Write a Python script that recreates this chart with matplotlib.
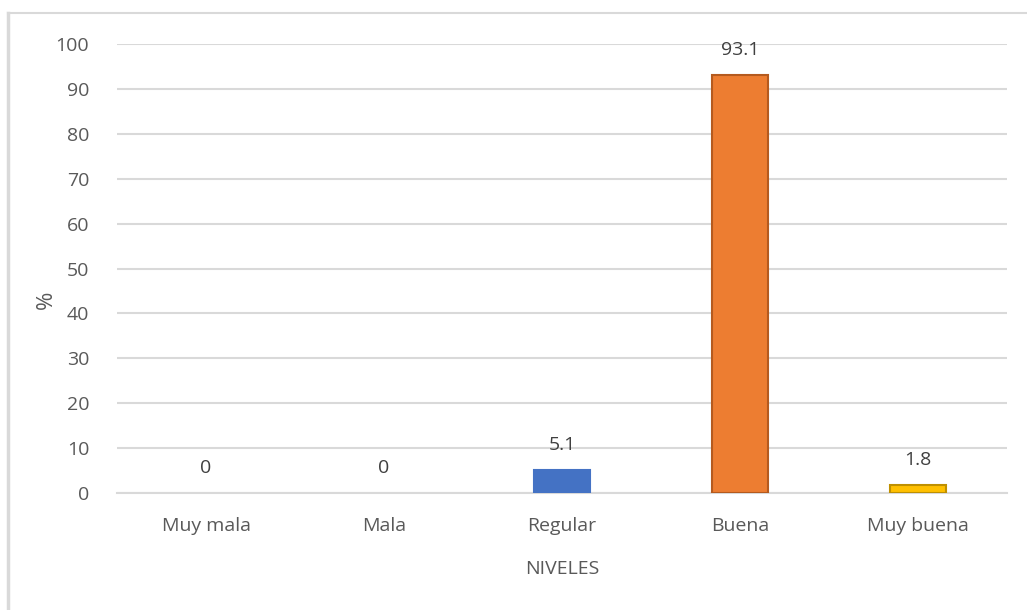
import matplotlib.pyplot as plt
from matplotlib.lines import Line2D

# datos del gráfico
niveles = ['Muy mala', 'Mala', 'Regular', 'Buena', 'Muy buena']
porcentajes = [0, 0, 5.1, 93.1, 1.8]
etiquetas = ['0', '0', '5.1', '93.1', '1.8']
colores = ['#4472C4', '#4472C4', '#4472C4', '#ED7D31', '#FFC000']
bordes = ['#4472C4', '#4472C4', '#4472C4', '#B55A1E', '#BF9000']

texto = '#595959'
plt.rcParams['font.family'] = ['Open Sans', 'DejaVu Sans']

W, H = 1027, 610
fig = plt.figure(figsize=(W / 100, H / 100), dpi=100)
ax = fig.add_axes([117 / W, 1 - 493 / H, 890 / W, 449 / H])

x = range(len(niveles))
anchos_borde = [1.5 if v > 0 else 0 for v in porcentajes]
ax.bar(x, porcentajes, width=0.31, color=colores, edgecolor=bordes,
       linewidth=anchos_borde, zorder=3)

for i, (v, lab) in enumerate(zip(porcentajes, etiquetas)):
    ax.text(i, v + 3.5, lab, ha='center', va='bottom', fontsize=14, color='#404040')

ax.set_xlim(-0.5, len(niveles) - 0.5)
ax.set_ylim(0, 100)
ax.set_yticks(range(0, 101, 10))
ax.set_xticks(list(x))
ax.set_xticklabels(niveles)
ax.grid(axis='y', color='#D9D9D9', linewidth=1.5, zorder=0)
for s in ['top', 'right', 'left']:
    ax.spines[s].set_visible(False)
ax.spines['bottom'].set_color('#D9D9D9')
ax.spines['bottom'].set_linewidth(1.5)
ax.tick_params(length=0, labelsize=14, colors=texto)
ax.tick_params(axis='y', pad=20)
ax.tick_params(axis='x', pad=17)

ax.set_xlabel('NIVELES', fontsize=14, color=texto, labelpad=18)
ax.set_ylabel('%', fontsize=16, color=texto, va='center')
ax.yaxis.set_label_coords(-0.079, 0.43)

# borde del área del gráfico (solo superior e izquierdo visibles)
fig.add_artist(Line2D([8 / W, 1], [1 - 13 / H, 1 - 13 / H], color='#D9D9D9', linewidth=1.5))
fig.add_artist(Line2D([8 / W, 8 / W], [0, 1 - 13 / H], color='#D9D9D9', linewidth=2.5))

fig.savefig('out.png', dpi=100, facecolor='white')
